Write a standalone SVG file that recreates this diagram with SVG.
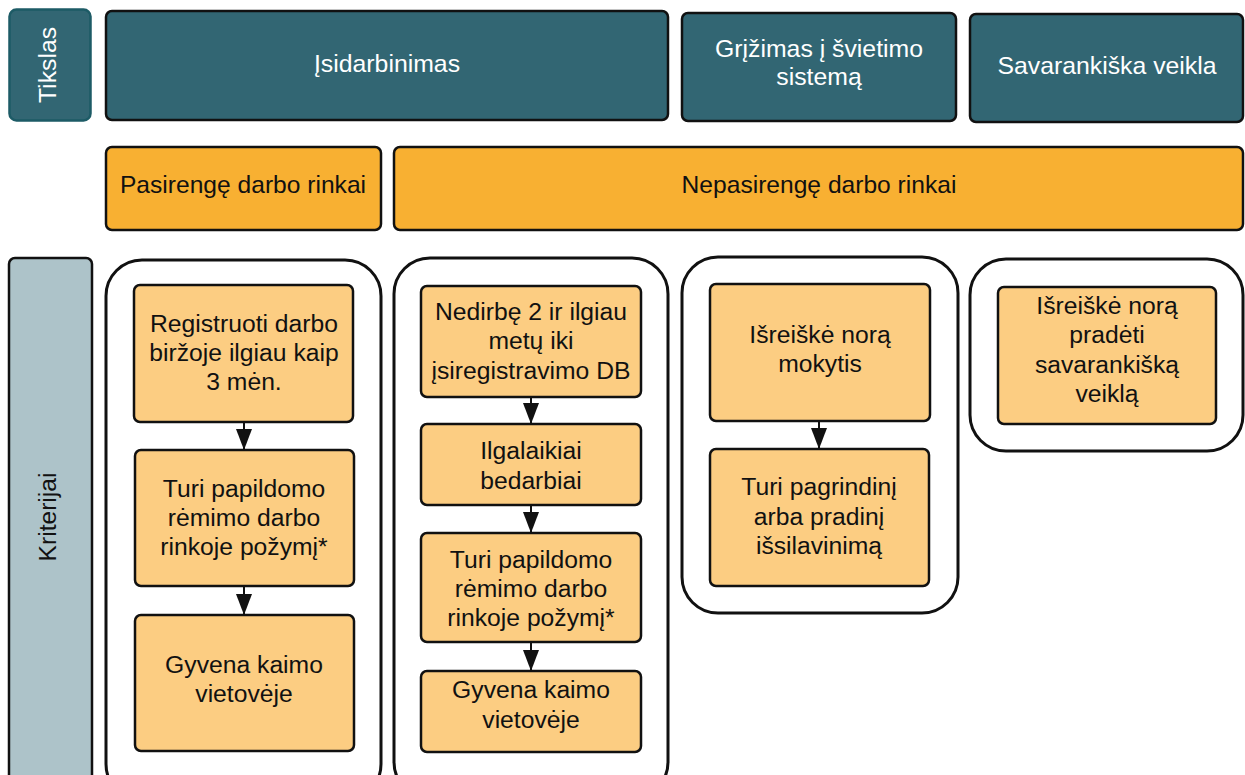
<svg xmlns="http://www.w3.org/2000/svg" width="1245" height="775" viewBox="0 0 1245 775">
<defs>
<style>
.hdr{fill:#326673;stroke:#111;stroke-width:2.5}
.grp{fill:#f8b032;stroke:#111;stroke-width:2.5}
.cont{fill:#fff;stroke:#111;stroke-width:3}
.box{fill:#fccd82;stroke:#111;stroke-width:2.5}
.t{font-family:"Liberation Sans",Arial,sans-serif;font-size:24.7px;text-anchor:middle;fill:#111}
.tw{font-family:"Liberation Sans",Arial,sans-serif;font-size:24.8px;text-anchor:middle;fill:#fff}
.tb{font-family:"Liberation Sans",Arial,sans-serif;font-size:24.6px;text-anchor:middle;fill:#111}
.edge{stroke:#111;stroke-width:2;fill:none;marker-end:url(#arr)}
</style>
<marker id="arr" viewBox="0 0 21 16" refX="21" refY="8" markerWidth="21" markerHeight="16" markerUnits="userSpaceOnUse" orient="auto">
<path d="M0,0 L21,8 L0,16 Z" fill="#111"/>
</marker>
</defs>
<rect width="1245" height="775" fill="#fff"/>

<g id="tikslas">
<rect x="9.5" y="9.5" width="81" height="111" rx="7" fill="#326673" stroke="#1d5b66" stroke-width="2.5"/>
<text class="tw" transform="translate(56,65) rotate(-90)">Tikslas</text>
</g>
<g id="isidarbinimas">
<rect class="hdr" x="106" y="11" width="562" height="109" rx="6"/>
<text class="tw" x="387" y="72">Įsidarbinimas</text>
</g>
<g id="grizimas">
<rect class="hdr" x="682" y="13" width="274" height="108" rx="6"/>
<text class="tw" x="819" y="57">Grįžimas į švietimo</text>
<text class="tw" x="819" y="85">sistemą</text>
</g>
<g id="savarankiska">
<rect class="hdr" x="970" y="14" width="273" height="108" rx="6"/>
<text class="tw" x="1107" y="74">Savarankiška veikla</text>
</g>

<g id="pasirenge">
<rect class="grp" x="106" y="147" width="275" height="83" rx="6"/>
<text class="tb" x="243" y="193">Pasirengę darbo rinkai</text>
</g>
<g id="nepasirenge">
<rect class="grp" x="394" y="147" width="849" height="83" rx="6"/>
<text class="tb" x="819" y="193">Nepasirengę darbo rinkai</text>
</g>

<g id="kriterijai">
<rect x="9" y="258" width="83" height="540" rx="6" fill="#adc3c9" stroke="#111" stroke-width="2.5"/>
<text class="tb" transform="translate(56,517) rotate(-90)">Kriterijai</text>
</g>

<g id="container1"><rect class="cont" x="106" y="260" width="275" height="540" rx="36"/></g>
<g id="container2"><rect class="cont" x="394" y="258" width="274" height="540" rx="36"/></g>
<g id="container3"><rect class="cont" x="682" y="257" width="276" height="356" rx="36"/></g>
<g id="container4"><rect class="cont" x="970" y="259" width="273" height="192" rx="36"/></g>

<g id="c1a">
<rect class="box" x="134" y="285" width="219" height="137" rx="6"/>
<text class="t" x="244" y="332">Registruoti darbo</text>
<text class="t" x="244" y="361">biržoje ilgiau kaip</text>
<text class="t" x="244" y="390">3 mėn.</text>
</g>
<g id="c1b">
<rect class="box" x="135" y="450" width="219" height="136" rx="6"/>
<text class="t" x="244" y="497">Turi papildomo</text>
<text class="t" x="244" y="526">rėmimo darbo</text>
<text class="t" x="244" y="555">rinkoje požymį*</text>
</g>
<g id="c1c">
<rect class="box" x="135" y="615" width="219" height="136" rx="6"/>
<text class="t" x="244" y="673">Gyvena kaimo</text>
<text class="t" x="244" y="702">vietovėje</text>
</g>

<g id="c2a">
<rect class="box" x="421" y="286" width="220" height="111" rx="6"/>
<text class="t" x="531" y="320">Nedirbę 2 ir ilgiau</text>
<text class="t" x="531" y="349">metų iki</text>
<text class="t" x="531" y="379">įsiregistravimo DB</text>
</g>
<g id="c2b">
<rect class="box" x="421" y="424" width="220" height="81" rx="6"/>
<text class="t" x="531" y="459">Ilgalaikiai</text>
<text class="t" x="531" y="489">bedarbiai</text>
</g>
<g id="c2c">
<rect class="box" x="421" y="533" width="220" height="109" rx="6"/>
<text class="t" x="531" y="568">Turi papildomo</text>
<text class="t" x="531" y="597">rėmimo darbo</text>
<text class="t" x="531" y="626">rinkoje požymį*</text>
</g>
<g id="c2d">
<rect class="box" x="421" y="671" width="220" height="81" rx="6"/>
<text class="t" x="531" y="698">Gyvena kaimo</text>
<text class="t" x="531" y="728">vietovėje</text>
</g>

<g id="c3a">
<rect class="box" x="710" y="284" width="220" height="137" rx="6"/>
<text class="t" x="820" y="343">Išreiškė norą</text>
<text class="t" x="820" y="372">mokytis</text>
</g>
<g id="c3b">
<rect class="box" x="710" y="449" width="219" height="137" rx="6"/>
<text class="t" x="819" y="495">Turi pagrindinį</text>
<text class="t" x="819" y="525">arba pradinį</text>
<text class="t" x="819" y="554">išsilavinimą</text>
</g>

<g id="c4a">
<rect class="box" x="998" y="287" width="218" height="137" rx="6"/>
<text class="t" x="1107" y="314">Išreiškė norą</text>
<text class="t" x="1107" y="343">pradėti</text>
<text class="t" x="1107" y="373">savarankišką</text>
<text class="t" x="1107" y="402">veiklą</text>
</g>

<g id="connectors">
<line class="edge" x1="244" y1="422" x2="244" y2="450"/>
<line class="edge" x1="244" y1="586" x2="244" y2="615"/>
<line class="edge" x1="531" y1="397" x2="531" y2="424"/>
<line class="edge" x1="531" y1="505" x2="531" y2="533"/>
<line class="edge" x1="531" y1="642" x2="531" y2="671"/>
<line class="edge" x1="819" y1="421" x2="819" y2="449"/>
</g>
</svg>
